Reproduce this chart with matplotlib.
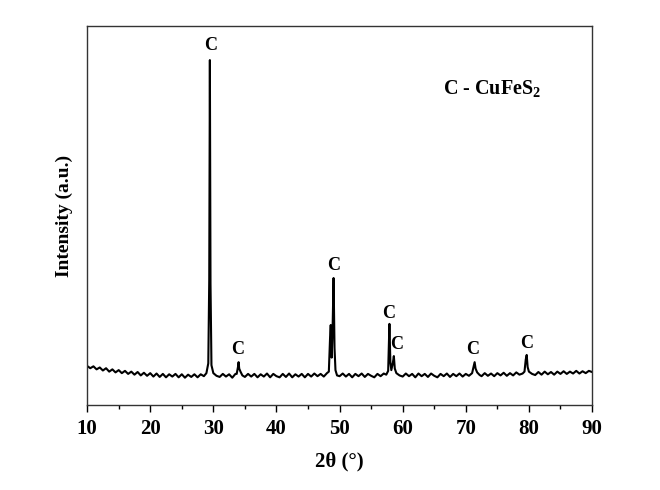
import matplotlib
matplotlib.use("Agg")
import matplotlib.pyplot as plt
from matplotlib.ticker import MultipleLocator

plt.rcParams['font.family'] = ['Liberation Serif', 'DejaVu Serif']
plt.rcParams['font.weight'] = 'bold'
plt.rcParams['mathtext.fontset'] = 'custom'
plt.rcParams['mathtext.rm'] = 'Liberation Serif:bold'
plt.rcParams['mathtext.default'] = 'rm'

# XRD pattern (2theta in degrees, intensity in a.u.)
two_theta = [
    10.0, 10.5, 11.0, 11.5, 12.0, 12.5, 13.0, 13.5, 14.0, 14.5, 15.0, 15.5, 16.0, 16.5, 17.0,
    17.5, 18.0, 18.5, 19.0, 19.5, 20.0, 20.5, 21.0, 21.5, 22.0, 22.5, 23.0, 23.5, 24.0, 24.5,
    25.0, 25.5, 26.0, 26.5, 27.0, 27.5, 28.0, 28.5, 28.9, 29.2, 29.35, 29.45, 29.55, 29.7, 30.0,
    30.5, 31.0, 31.5, 32.0, 32.5, 33.0, 33.5, 33.7, 33.9, 34.0, 34.1, 34.3, 34.6, 35.0, 35.5,
    36.0, 36.5, 37.0, 37.5, 38.0, 38.5, 39.0, 39.5, 40.0, 40.5, 41.0, 41.5, 42.0, 42.5, 43.0,
    43.5, 44.0, 44.5, 45.0, 45.5, 46.0, 46.5, 47.0, 47.5, 48.0, 48.3, 48.5, 48.6, 48.75, 48.9,
    49.05, 49.2, 49.35, 49.6, 50.0, 50.5, 51.0, 51.5, 52.0, 52.5, 53.0, 53.5, 54.0, 54.5, 55.0,
    55.5, 56.0, 56.5, 57.0, 57.4, 57.7, 57.8, 57.9, 58.05, 58.2, 58.45, 58.6, 58.75, 59.0, 59.5,
    60.0, 60.5, 61.0, 61.5, 62.0, 62.5, 63.0, 63.5, 64.0, 64.5, 65.0, 65.5, 66.0, 66.5, 67.0,
    67.5, 68.0, 68.5, 69.0, 69.5, 70.0, 70.5, 71.0, 71.2, 71.4, 71.55, 71.8, 72.2, 72.5, 73.0,
    73.5, 74.0, 74.5, 75.0, 75.5, 76.0, 76.5, 77.0, 77.5, 78.0, 78.5, 79.0, 79.3, 79.5, 79.65,
    79.8, 80.0, 80.5, 81.0, 81.5, 82.0, 82.5, 83.0, 83.5, 84.0, 84.5, 85.0, 85.5, 86.0, 86.5,
    87.0, 87.5, 88.0, 88.5, 89.0, 89.5, 90.0,
]
intensity = [
    103, 97, 102, 94, 99, 91, 97, 88, 94, 86, 92, 84, 90, 82, 88,
    80, 87, 78, 85, 77, 84, 75, 83, 74, 82, 73, 81, 75, 82, 73,
    81, 72, 80, 74, 81, 73, 81, 76, 84, 110, 330, 910, 320, 105, 84,
    77, 74, 82, 75, 81, 72, 82, 82, 100, 113, 96, 88, 78, 74, 82,
    75, 82, 73, 81, 75, 83, 73, 82, 76, 73, 82, 74, 83, 73, 81,
    75, 82, 73, 82, 75, 83, 76, 82, 75, 84, 88, 180, 211, 125, 205,
    335, 150, 92, 78, 76, 83, 75, 82, 73, 82, 76, 83, 74, 82, 77,
    73, 82, 76, 83, 80, 90, 150, 214, 112, 92, 112, 129, 96, 84, 78,
    75, 83, 76, 82, 73, 83, 76, 82, 74, 83, 77, 73, 82, 76, 83,
    74, 82, 76, 83, 75, 82, 77, 84, 98, 113, 96, 86, 79, 76, 84,
    77, 83, 76, 84, 78, 85, 77, 84, 78, 86, 80, 83, 88, 120, 132,
    100, 88, 82, 79, 87, 80, 88, 81, 87, 80, 88, 82, 89, 82, 88,
    83, 90, 83, 89, 84, 90, 87,
]

# Phase labels (C = chalcopyrite) placed above the peaks
label_x = [29.6, 33.9, 49.0, 57.8, 59.1, 71.1, 79.7]
label_y = [925, 125, 345, 220, 136, 125, 141]
label_text = ["C", "C", "C", "C", "C", "C", "C"]

fig = plt.figure(figsize=(6.6, 4.9), dpi=100)
ax = fig.add_axes([0.132, 0.1735, 0.765, 0.7735])
ax.plot(two_theta, intensity, color='black', lw=1.5)

for x, y, t in zip(label_x, label_y, label_text):
    ax.text(x, y, t, ha='center', va='bottom', fontsize=13, fontweight='bold')

ax.text(0.803, 0.835, "C - CuFeS$_2$", transform=ax.transAxes, ha='center', va='center',
        fontsize=14.5, fontweight='bold')

ax.set_xlim(10, 90)
ax.set_ylim(0, 1000)
ax.xaxis.set_major_locator(MultipleLocator(10))
ax.xaxis.set_minor_locator(MultipleLocator(5))
ax.set_yticks([])
ax.tick_params(axis='x', which='major', direction='out', length=5, width=1, labelsize=15, pad=5)
ax.tick_params(axis='x', which='minor', direction='out', length=3, width=1)
for lab in ax.get_xticklabels():
    lab.set_fontweight('bold')
for s in ax.spines.values():
    s.set_linewidth(1.0)
    s.set_color('#333333')

ax.set_xlabel("2θ (°)", fontsize=15, fontweight='bold', labelpad=9)
ax.set_ylabel("Intensity (a.u.)", fontsize=14, fontweight='bold', labelpad=10)

fig.savefig("out.png", dpi=100)
